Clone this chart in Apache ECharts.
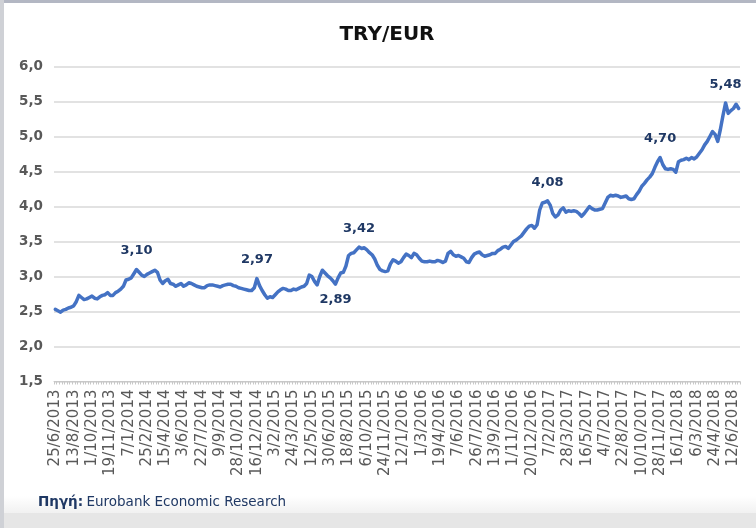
<!DOCTYPE html>
<html>
<head>
<meta charset="utf-8">
<script src="https://cdn.jsdelivr.net/npm/echarts@6/dist/echarts.min.js"></script>
<style>
html,body{margin:0;padding:0;background:#fff;}
#chart{width:756px;height:528px;}
</style>
</head>
<body>
<div id="chart"></div>
<script>
// Weekly TRY/EUR values, starting 25/6/2013
const startDate = [2013, 6, 25];
const values = [
2.53,2.51,2.49,2.52,2.53,2.55,2.56,2.58,2.64,2.73,
2.70,2.67,2.68,2.70,2.72,2.69,2.68,2.71,2.73,2.74,
2.77,2.73,2.73,2.77,2.79,2.82,2.86,2.95,2.96,2.98,
3.04,3.10,3.06,3.02,3.00,3.03,3.05,3.07,3.09,3.06,
2.95,2.90,2.94,2.96,2.90,2.89,2.86,2.88,2.90,2.86,
2.88,2.91,2.90,2.88,2.86,2.85,2.84,2.84,2.87,2.88,
2.88,2.87,2.86,2.85,2.87,2.88,2.89,2.89,2.87,2.86,
2.84,2.83,2.82,2.81,2.80,2.80,2.84,2.97,2.87,2.80,
2.74,2.69,2.71,2.70,2.74,2.78,2.81,2.83,2.82,2.80,
2.80,2.82,2.81,2.83,2.85,2.86,2.90,3.02,3.00,2.93,
2.88,3.00,3.09,3.05,3.01,2.98,2.94,2.89,2.98,3.05,
3.06,3.15,3.30,3.33,3.34,3.38,3.42,3.40,3.41,3.38,
3.34,3.31,3.25,3.16,3.10,3.08,3.07,3.08,3.18,3.24,
3.22,3.19,3.21,3.27,3.32,3.30,3.27,3.33,3.31,3.26,
3.22,3.21,3.21,3.22,3.21,3.21,3.23,3.22,3.20,3.22,
3.33,3.36,3.31,3.29,3.30,3.28,3.26,3.21,3.20,3.27,
3.32,3.34,3.35,3.31,3.29,3.30,3.31,3.33,3.33,3.37,
3.39,3.42,3.43,3.40,3.45,3.50,3.52,3.55,3.58,3.63,
3.68,3.72,3.73,3.69,3.74,3.95,4.05,4.06,4.08,4.02,
3.90,3.85,3.88,3.95,3.98,3.92,3.94,3.93,3.94,3.93,
3.90,3.86,3.90,3.95,4.00,3.97,3.95,3.95,3.96,3.97,
4.05,4.13,4.16,4.15,4.16,4.15,4.13,4.14,4.15,4.11,
4.10,4.11,4.17,4.22,4.29,4.33,4.38,4.42,4.47,4.56,
4.64,4.70,4.60,4.54,4.53,4.54,4.53,4.49,4.64,4.66,
4.67,4.69,4.67,4.70,4.68,4.71,4.76,4.81,4.88,4.93,
5.00,5.07,5.03,4.93,5.10,5.30,5.48,5.33,5.37,5.40,
5.46,5.40
];
// annotated points: index and label side
const labelIdx = [31, 77, 107, 116, 188, 231, 256];
const labelPos = ['top','top','bottom','top','top','top','top'];
const yTicks = [1.5, 6.0, 0.5]; // min, max, step

const categories = [];
(function(){
  const d = new Date(startDate[0], startDate[1]-1, startDate[2]);
  for (let i = 0; i < values.length; i++) {
    categories.push(d.getDate() + '/' + (d.getMonth()+1) + '/' + d.getFullYear());
    d.setDate(d.getDate() + 7);
  }
})();

const fmt = v => Number(v).toFixed(2).replace('.', ',');
const seriesData = values.map((v, i) => {
  const k = labelIdx.indexOf(i);
  if (k < 0) return v;
  return {
    value: v,
    label: {
      show: true,
      position: labelPos[k],
      distance: labelPos[k] === 'top' ? 12 : 9,
      formatter: p => fmt(p.value),
      color: '#1f3864',
      fontFamily: 'DejaVu Sans',
      fontWeight: 'bold',
      fontSize: 13
    }
  };
});

const chart = echarts.init(document.getElementById('chart'));
chart.setOption({
  backgroundColor: '#ffffff',
  animation: false,
  title: {
    text: 'TRY/EUR',
    left: 382, top: 20, textAlign: 'center',
    textStyle: { fontFamily: 'DejaVu Sans', fontWeight: 'bold', fontSize: 20, color: '#111' }
  },
  grid: { left: 54, right: 16, top: 66.5, height: 315 },
  xAxis: {
    type: 'category',
    data: categories,
    boundaryGap: true,
    axisLine: { lineStyle: { color: '#c8c8c8', width: 1 } },
    axisTick: { show: true, interval: 0, length: 3, lineStyle: { color: '#c8c8c8' } },
    axisLabel: {
      interval: 6, rotate: 90, margin: 8,
      fontFamily: 'DejaVu Sans', fontSize: 15, color: '#595959'
    },
    splitLine: { show: false }
  },
  yAxis: {
    type: 'value',
    min: yTicks[0], max: yTicks[1], interval: yTicks[2],
    axisLine: { show: false },
    axisTick: { show: false },
    axisLabel: {
      formatter: v => v.toFixed(1).replace('.', ','),
      fontFamily: 'DejaVu Sans', fontWeight: 'bold', fontSize: 13.5, color: '#595959', margin: 11
    },
    splitLine: { lineStyle: { color: '#d9d9d9', width: 1.5 } }
  },
  series: [{
    type: 'line',
    data: seriesData,
    showSymbol: true,
    showAllSymbol: true,
    symbol: 'circle',
    symbolSize: 0,
    smooth: false,
    label: { show: false },
    lineStyle: { color: '#4472c4', width: 3.5, join: 'round', cap: 'round' },
    itemStyle: { color: '#4472c4' }
  }],
  graphic: [
    { type: 'rect', shape: { x: 0, y: 496, width: 756, height: 17 }, silent: true,
      style: { fill: new echarts.graphic.LinearGradient(0,0,0,1,[{offset:0,color:'#ffffff'},{offset:1,color:'#f1f1f1'}]) } },
    { type: 'rect', shape: { x: 0, y: 513, width: 756, height: 15 }, silent: true, style: { fill: '#e6e6e6' } },
    { type: 'rect', shape: { x: 0, y: 0, width: 756, height: 3 }, silent: true, style: { fill: '#b3b7c3' } },
    { type: 'rect', shape: { x: 0, y: 0, width: 4, height: 528 }, silent: true, style: { fill: '#cfd1d6' } },
    { type: 'text', left: 38, top: 495, silent: true,
      style: { rich: {
        a: { fontFamily: 'DejaVu Sans', fontWeight: 'bold', fontSize: 13.5, fill: '#1f3864' },
        b: { fontFamily: 'DejaVu Sans', fontSize: 13.5, fill: '#1f3864' }
      }, text: '{a|Πηγή:} {b|Eurobank Economic Research}' } }
  ]
});
</script>
</body>
</html>
